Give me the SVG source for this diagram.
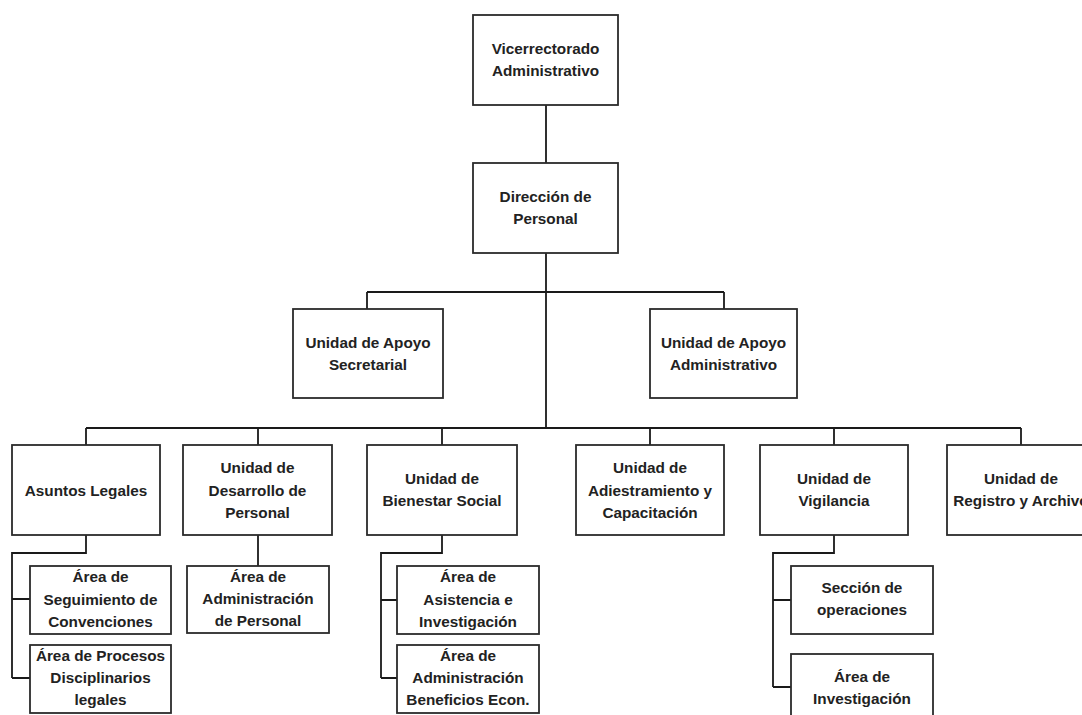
<svg xmlns="http://www.w3.org/2000/svg" width="1082" height="715" viewBox="0 0 1082 715">
<style>
.box{fill:#fff;stroke:#2b2b2b;stroke-width:1.8}
.t{font-family:"Liberation Sans",Arial,sans-serif;font-weight:bold;font-size:15.3px;fill:#222;text-anchor:middle}
.c{fill:none;stroke:#1a1a1a;stroke-width:1.8}
</style>
<rect width="1082" height="715" fill="#fff"/>
<g id="connectors">
<path class="c" d="M546,105V163M546,253V428M367,292H724M367,292V309M724,292V309"/>
<path class="c" d="M86,428H1021M86,428V445M258,428V445M442,428V445M650,428V445M834,428V445M1021,428V445"/>
<path class="c" d="M86,535V553H12V678M12,599H30M12,678H30"/>
<path class="c" d="M258,535V566"/>
<path class="c" d="M442,535V553H381V678M381,600H397M381,678H397"/>
<path class="c" d="M834,535V553H773V687M773,600H791M773,687H791"/>
</g>
<g id="n-vicerrectorado"><rect class="box" x="473" y="15" width="145" height="90"/><text class="t" x="545.5" y="54">Vicerrectorado</text><text class="t" x="545.5" y="76">Administrativo</text></g>
<g id="n-direccion"><rect class="box" x="473" y="163" width="145" height="90"/><text class="t" x="545.5" y="202">Dirección de</text><text class="t" x="545.5" y="224">Personal</text></g>
<g id="n-apoyo-sec"><rect class="box" x="293" y="309" width="150" height="89"/><text class="t" x="368" y="348">Unidad de Apoyo</text><text class="t" x="368" y="370">Secretarial</text></g>
<g id="n-apoyo-adm"><rect class="box" x="650" y="309" width="147" height="89"/><text class="t" x="723.5" y="348">Unidad de Apoyo</text><text class="t" x="723.5" y="370">Administrativo</text></g>
<g id="n-asuntos"><rect class="box" x="12" y="445" width="148" height="90"/><text class="t" x="86" y="496">Asuntos Legales</text></g>
<g id="n-desarrollo"><rect class="box" x="183" y="445" width="149" height="90"/><text class="t" x="257.5" y="473">Unidad de</text><text class="t" x="257.5" y="495.5">Desarrollo de</text><text class="t" x="257.5" y="518">Personal</text></g>
<g id="n-bienestar"><rect class="box" x="367" y="445" width="150" height="90"/><text class="t" x="442" y="484">Unidad de</text><text class="t" x="442" y="506">Bienestar Social</text></g>
<g id="n-adiestramiento"><rect class="box" x="576" y="445" width="148" height="90"/><text class="t" x="650" y="473">Unidad de</text><text class="t" x="650" y="495.5">Adiestramiento y</text><text class="t" x="650" y="518">Capacitación</text></g>
<g id="n-vigilancia"><rect class="box" x="760" y="445" width="148" height="90"/><text class="t" x="834" y="484">Unidad de</text><text class="t" x="834" y="506">Vigilancia</text></g>
<g id="n-registro"><rect class="box" x="947" y="445" width="148" height="90"/><text class="t" x="1021" y="484">Unidad de</text><text class="t" x="1021" y="506">Registro y Archivo</text></g>
<g id="n-seguimiento"><rect class="box" x="30" y="566" width="141" height="68"/><text class="t" x="100.5" y="582">Área de</text><text class="t" x="100.5" y="604.5">Seguimiento de</text><text class="t" x="100.5" y="627">Convenciones</text></g>
<g id="n-procesos"><rect class="box" x="30" y="645" width="141" height="68"/><text class="t" x="100.5" y="661">Área de Procesos</text><text class="t" x="100.5" y="683">Disciplinarios</text><text class="t" x="100.5" y="705">legales</text></g>
<g id="n-adm-personal"><rect class="box" x="187" y="566" width="142" height="67"/><text class="t" x="258" y="582">Área de</text><text class="t" x="258" y="604">Administración</text><text class="t" x="258" y="626">de Personal</text></g>
<g id="n-asistencia"><rect class="box" x="397" y="566" width="142" height="68"/><text class="t" x="468" y="582">Área de</text><text class="t" x="468" y="604.5">Asistencia e</text><text class="t" x="468" y="627">Investigación</text></g>
<g id="n-beneficios"><rect class="box" x="397" y="645" width="142" height="68"/><text class="t" x="468" y="661">Área de</text><text class="t" x="468" y="683">Administración</text><text class="t" x="468" y="705">Beneficios Econ.</text></g>
<g id="n-seccion"><rect class="box" x="791" y="566" width="142" height="68"/><text class="t" x="862" y="593">Sección de</text><text class="t" x="862" y="615">operaciones</text></g>
<g id="n-investigacion"><rect class="box" x="791" y="654" width="142" height="68"/><text class="t" x="862" y="682">Área de</text><text class="t" x="862" y="704">Investigación</text></g>
</svg>
